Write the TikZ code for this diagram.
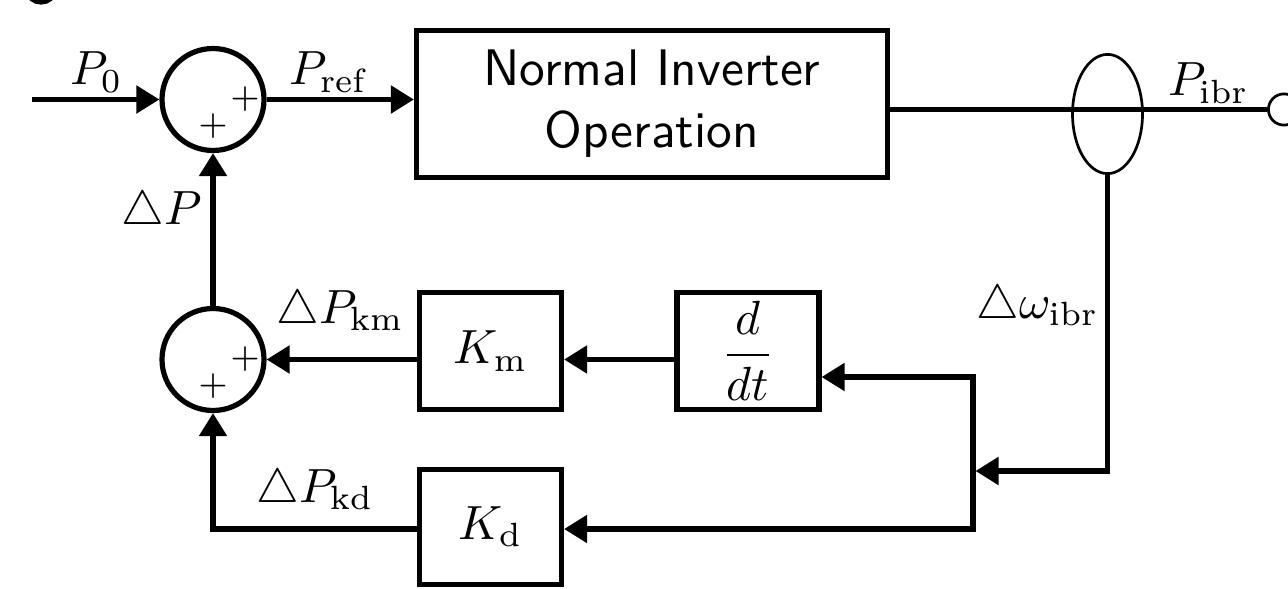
\RequirePackage{fix-cm}
\documentclass[tikz,border=0pt]{standalone}
\usepackage{fontspec}
\usetikzlibrary{arrows.meta,shapes.geometric}
\newcommand{\sbx}[1]{\scalebox{2.4}{#1}}
\begin{document}
\begin{tikzpicture}[x=0.5pt,y=-0.5pt,
  thk/.style={line width=2.6pt},
  tip/.tip={Triangle[length=11.5pt,width=13.5pt]},
  arr/.style={thk,-tip},
  blk/.style={draw,line width=2.6pt,inner sep=0pt,minimum width=71pt,minimum height=58.5pt},
  sumc/.style={circle,draw,line width=2.6pt,inner sep=0pt,minimum size=51pt},
  lbl/.style={inner sep=0pt,anchor=base west},
  pls/.style={inner sep=0pt}]
\useasboundingbox (0,0) rectangle (1288,588);
\clip (0,0) rectangle (1288,588);
% fragment of a letter cut at the top edge
\draw[line width=2.6pt] (41,-9) ellipse [x radius=6.5pt, y radius=5.5pt];
% nodes
\node[sumc] (c1) at (213,99.5) {};
\node[sumc] (c2) at (213,359.5) {};
\node[draw,line width=2.6pt,inner sep=0pt,minimum width=235.5pt,minimum height=73.5pt] (nio) at (652,104)
  {\scalebox{2.57}{\sffamily\begin{tabular}{@{}c@{}}Normal Inverter\\Operation\end{tabular}}};
\node[blk] (Km) at (490.5,351) {\sbx{$K_\mathrm{m}$}};
\node[blk] (dt) at (748,351) {\sbx{$\displaystyle\frac{d}{dt}$}};
\node[blk,minimum height=57.5pt] (Kd) at (490.5,527) {\sbx{$K_\mathrm{d}$}};
\node[circle,draw,line width=1.35pt,inner sep=0pt,minimum size=15.6pt] (sc) at (1284,109.5) {};
% plus signs
\node[pls] (p1a) at ([shift={(32,0)}]c1.center) {\sbx{$\scriptstyle+$}};
\node[pls] (p1b) at ([shift={(0,27)}]c1.center) {\sbx{$\scriptstyle+$}};
\node[pls] (p2a) at ([shift={(32,0)}]c2.center) {\sbx{$\scriptstyle+$}};
\node[pls] (p2b) at ([shift={(0,27)}]c2.center) {\sbx{$\scriptstyle+$}};
% coordinates
\coordinate (in) at (32,99.5);
\coordinate (jt) at (973,377);
\coordinate (jb) at (973,529);
\coordinate (jm) at (975.5,471);
\coordinate (el) at (1107.5,114);
\coordinate (els) at (1107.5,173.6);
% connectors
\draw[arr] (in) -- (c1.west);
\draw[arr] (c1.east) -- (nio.west |- c1.center);
\draw[thk] (nio.east |- sc.west) -- (sc.west);
\draw[line width=1.35pt] (el) ellipse [x radius=17.5pt, y radius=29.8pt];
\draw[arr] (els) |- (jm);
\draw[thk,tip-tip] (dt.east |- jt) -- (jt) -- (jb) -- (Kd.east |- jb);
\draw[arr] (dt.west |- c2.center) -- (Km.east |- c2.center);
\draw[arr] (Km.west |- c2.center) -- (c2.east);
\draw[arr] (Kd.west |- jb) -| (c2.south);
\draw[arr] (c2.north) -- (c1.south);
% labels
\node[lbl] (lP0) at (70,85) {\sbx{$P_0$}};
\node[lbl] (lPref) at (289,85) {\sbx{$P_\mathrm{ref}$}};
\node[lbl] (lPibr) at (1168,96) {\sbx{$P_\mathrm{ibr}$}};
\node[lbl] (ldP) at (121,224) {\sbx{$\triangle P$}};
\node[lbl] (ldPkm) at (276,323) {\sbx{$\triangle P_\mathrm{km}$}};
\node[lbl] (ldPkd) at (256,502) {\sbx{$\triangle P_\mathrm{kd}$}};
\node[lbl] (ldw) at (976,318) {\sbx{$\triangle\omega_\mathrm{ibr}$}};
\end{tikzpicture}
\end{document}
